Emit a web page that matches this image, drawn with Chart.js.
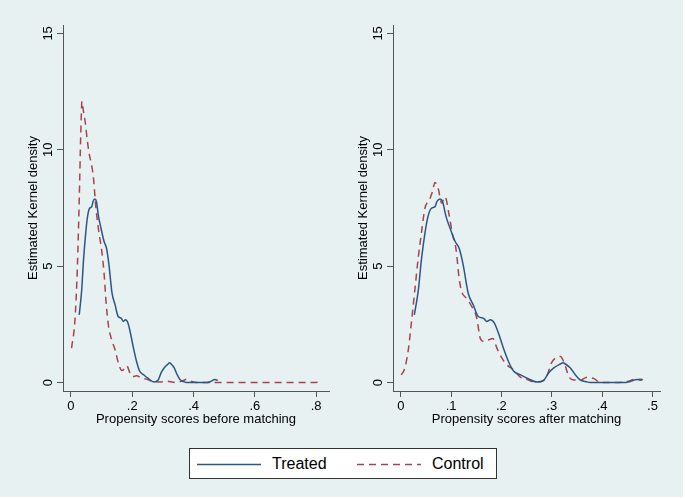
<!DOCTYPE html>
<html>
<head>
<meta charset="utf-8">
<script src="https://cdn.jsdelivr.net/npm/chart.js@4"></script>
<style>
  body { margin: 0; background: #fff; font-family: "Liberation Sans", Arial, sans-serif; }
  #page { position: absolute; left: 0; top: 0; width: 683px; height: 497px; background: #e8f1f2; }
  canvas { position: absolute; top: 0; }
  #legend { position: absolute; left: 189px; top: 448px; width: 306px; height: 29px;
            border: 1px solid #333; background: #fff; }
  .item { position: absolute; top: 0; height: 29px; font-size: 16px; line-height: 29px; color: #000; }
  .item svg { position: absolute; top: 14px; left: 0; }
  .item span { position: absolute; white-space: nowrap; }
</style>
</head>
<body>
<div id="page">
  <canvas id="before" width="342" height="432" style="left:0"></canvas>
  <canvas id="after" width="341" height="432" style="left:342px"></canvas>
  <div id="legend"></div>
</div>
<script>
// series names and colours
const seriesNames = ["Treated", "Control"];
const seriesColors = ["#2b5686", "#a8434b"];

// treated group kernel density (same in both panels)
const treatedX = [0.027, 0.035, 0.041, 0.048, 0.054, 0.061, 0.068, 0.072, 0.078, 0.083, 0.090, 0.098,
  0.108, 0.116, 0.124, 0.134, 0.144, 0.154, 0.164, 0.171, 0.178, 0.186, 0.194, 0.204, 0.214, 0.224,
  0.238, 0.251, 0.271, 0.284, 0.294, 0.304, 0.317, 0.322, 0.327, 0.337, 0.347, 0.357, 0.367, 0.377,
  0.400, 0.443, 0.456, 0.469, 0.479];
const treatedY = [2.91, 3.98, 5.27, 6.41, 7.13, 7.49, 7.56, 7.78, 7.89, 7.78, 7.13, 6.63,
  6.06, 5.77, 5.06, 3.84, 3.34, 2.84, 2.77, 2.63, 2.70, 2.56, 2.13, 1.48, 0.91, 0.50,
  0.33, 0.19, 0.03, 0.10, 0.42, 0.63, 0.80, 0.85, 0.80, 0.63, 0.33, 0.11, 0.05, 0.00,
  0.00, 0.00, 0.05, 0.13, 0.10];

// control group before matching
const controlBeforeX = [0.002, 0.013, 0.021, 0.027, 0.032, 0.036, 0.040, 0.047, 0.053, 0.060, 0.066,
  0.073, 0.081, 0.090, 0.100, 0.108, 0.114, 0.122, 0.133, 0.144, 0.155, 0.166, 0.175, 0.182, 0.193,
  0.201, 0.214, 0.231, 0.247, 0.269, 0.291, 0.312, 0.340, 0.365, 0.378, 0.394, 0.420, 0.500, 0.600,
  0.700, 0.790, 0.819];
const controlBeforeY = [1.48, 2.69, 4.98, 7.85, 10.7, 12.08, 11.72, 11.15, 10.43, 9.79, 9.43,
  8.85, 7.56, 6.56, 5.70, 4.70, 3.55, 2.48, 1.83, 1.41, 0.83, 0.52, 0.60, 0.72, 0.40,
  0.26, 0.29, 0.19, 0.15, 0.04, 0.03, 0.06, 0.01, 0.08, 0.15, 0.05, 0.00, 0.00, 0.00,
  0.00, 0.00, 0.04];

// control group after matching
const controlAfterX = [0.001, 0.008, 0.015, 0.021, 0.028, 0.035, 0.041, 0.048, 0.057, 0.063, 0.068,
  0.075, 0.081, 0.088, 0.096, 0.103, 0.110, 0.116, 0.121, 0.130, 0.141, 0.151, 0.158, 0.166, 0.174,
  0.183, 0.191, 0.201, 0.211, 0.224, 0.238, 0.251, 0.267, 0.281, 0.291, 0.299, 0.307, 0.317, 0.325,
  0.334, 0.344, 0.357, 0.370, 0.384, 0.394, 0.410, 0.430, 0.450, 0.467, 0.477, 0.481];
const controlAfterY = [0.33, 0.62, 1.41, 2.55, 3.98, 5.41, 6.41, 7.49, 7.85, 8.21, 8.60,
  8.28, 7.71, 7.98, 7.21, 6.35, 5.70, 4.48, 3.91, 3.63, 3.27, 2.77, 1.90, 1.76, 1.83,
  1.90, 1.48, 1.05, 0.76, 0.55, 0.23, 0.13, 0.03, 0.06, 0.33, 0.83, 1.05, 1.12, 0.83,
  0.26, 0.11, 0.11, 0.23, 0.17, 0.03, 0.00, 0.00, 0.05, 0.15, 0.15, 0.12];

// axis labels and ticks
const yTitle = "Estimated Kernel density";
const yTicks = [0, 5, 10, 15];
const beforeTitle = "Propensity scores before matching";
const afterTitle = "Propensity scores after matching";
const beforeXTicks = [0, 0.2, 0.4, 0.6, 0.8];
const afterXTicks = [0, 0.1, 0.2, 0.3, 0.4, 0.5];

const font = { family: '"Liberation Sans", Arial, sans-serif', size: 13 };

function toPoints(xs, ys) {
    return xs.map((x, i) => ({ x: x, y: ys[i] }));
}

function fmt(v) {
    const r = Math.round(v * 10) / 10;
    return r === 0 ? "0" : String(r).replace(/^0/, "");
}

// Stata style: y tick labels turned on their side
const rotatedYLabels = {
    id: "rotatedYLabels",
    afterDraw(chart) {
        const ctx = chart.ctx;
        const y = chart.scales.y;
        ctx.save();
        ctx.fillStyle = "#000";
        ctx.font = font.size + "px " + font.family;
        ctx.textAlign = "center";
        ctx.textBaseline = "middle";
        y.ticks.forEach(t => {
            ctx.save();
            ctx.translate(chart.chartArea.left - 15, y.getPixelForValue(t.value));
            ctx.rotate(-Math.PI / 2);
            ctx.fillText(String(t.value), 0, 0);
            ctx.restore();
        });
        ctx.restore();
    }
};

function makePanel(id, controlX, controlY, xTitle, xTicks, xMin, xMax, yWidth, yTitlePad, rightPad) {
    new Chart(document.getElementById(id), {
        type: "line",
        data: {
            datasets: [
                { label: seriesNames[0], data: toPoints(treatedX, treatedY),
                  borderColor: seriesColors[0], borderWidth: 1.5 },
                { label: seriesNames[1], data: toPoints(controlX, controlY),
                  borderColor: seriesColors[1], borderWidth: 1.5, borderDash: [7, 5] }
            ]
        },
        options: {
            responsive: false,
            animation: false,
            devicePixelRatio: 1,
            cubicInterpolationMode: "monotone",
            elements: { point: { radius: 0 } },
            layout: { padding: { top: 25, right: rightPad, left: 0, bottom: 0 } },
            plugins: { legend: { display: false }, tooltip: { enabled: false } },
            scales: {
                x: {
                    type: "linear", min: xMin, max: xMax,
                    afterBuildTicks: s => { s.ticks = xTicks.map(v => ({ value: v })); },
                    afterFit: s => { s.height = 41; },
                    border: { color: "#555", width: 1 },
                    grid: { drawOnChartArea: false, tickLength: 6, tickColor: "#555" },
                    ticks: { color: "#000", font: font, padding: 2, maxRotation: 0, callback: fmt },
                    title: { display: true, text: xTitle, color: "#000", font: font,
                             padding: { top: 0, bottom: 5 } }
                },
                y: {
                    min: -0.36, max: 15.36,
                    afterBuildTicks: s => { s.ticks = yTicks.map(v => ({ value: v })); },
                    afterFit: s => { s.width = yWidth; },
                    border: { color: "#555", width: 1 },
                    grid: { color: "#e6eff1", tickLength: 6, tickColor: "#555" },
                    ticks: { display: false },
                    title: { display: true, text: yTitle, color: "#000", font: font,
                             padding: { top: yTitlePad, bottom: 0 } }
                }
            }
        },
        plugins: [rotatedYLabels]
    });
}

makePanel("before", controlBeforeX, controlBeforeY, beforeTitle, beforeXTicks, -0.026, 0.842, 63, 26, 13);
makePanel("after", controlAfterX, controlAfterY, afterTitle, afterXTicks, -0.0154, 0.515, 51, 14, 23);

// legend built from the series arrays
const legend = document.getElementById("legend");
const itemLeft = [7, 167];
seriesNames.forEach((name, i) => {
    const item = document.createElement("div");
    item.className = "item";
    item.style.left = itemLeft[i] + "px";
    const dash = i === 1 ? ' stroke-dasharray="7 5"' : "";
    item.innerHTML = '<svg width="64" height="3"><line x1="0" y1="1.5" x2="64" y2="1.5" stroke="' +
        seriesColors[i] + '" stroke-width="1.5"' + dash + '/></svg><span style="left:75px">' + name + '</span>';
    legend.appendChild(item);
});
</script>
</body>
</html>
